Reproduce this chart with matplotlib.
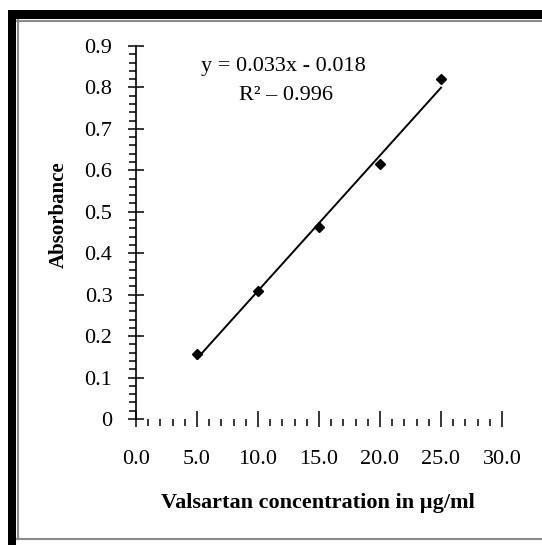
import numpy as np
import matplotlib
matplotlib.use('Agg')
from matplotlib import pyplot as plt
from matplotlib.patches import Rectangle
from matplotlib.lines import Line2D
from matplotlib.ticker import MultipleLocator, FormatStrFormatter

# data
conc = [5, 10, 15, 20, 25]
absorb = [0.156, 0.309, 0.463, 0.615, 0.820]
x_ticks = [0, 5, 10, 15, 20, 25, 30]
y_ticks = [0, 0.1, 0.2, 0.3, 0.4, 0.5, 0.6, 0.7, 0.8, 0.9]
eq_text = 'y = 0.033x - 0.018'
r2_text = 'R\u00b2 \u2013 0.996'

plt.rcParams['font.family'] = ['Liberation Serif', 'DejaVu Serif']

W, H = 542, 545
fig = plt.figure(figsize=(W / 100, H / 100), dpi=100)

def fx(px):
    return px / W

def fy(py):
    return 1 - py / H

# frame around the chart (black bar + thin grey line)
fig.add_artist(Rectangle((fx(8), fy(19)), fx(534), 9 / H, transform=fig.transFigure, color='black', lw=0))
fig.add_artist(Rectangle((fx(8), 0), 8 / W, fy(10), transform=fig.transFigure, color='black', lw=0))
fig.add_artist(Line2D([fx(17), 1], [fy(20.5), fy(20.5)], transform=fig.transFigure, color='#8a8a8a', lw=1.5))
fig.add_artist(Line2D([fx(18), fx(18)], [fy(20), fy(539)], transform=fig.transFigure, color='#8a8a8a', lw=1.5))
fig.add_artist(Line2D([fx(17), 1], [fy(538.5), fy(538.5)], transform=fig.transFigure, color='#8a8a8a', lw=1.5))

ax = fig.add_axes([fx(136), fy(419), (502 - 136) / W, (419 - 46) / H])

# linear trendline
slope, icpt = np.polyfit(conc, absorb, 1)
xf = np.array([min(conc), max(conc)])
ax.plot(xf, slope * xf + icpt, color='black', lw=1.4, zorder=2)
ax.plot(conc, absorb, linestyle='none', marker='D', color='black', ms=5.5, zorder=3)

ax.set_xlim(0, 30)
ax.set_ylim(0, 0.9)
ax.set_xticks(x_ticks)
ax.set_yticks(y_ticks)
ax.xaxis.set_major_formatter(FormatStrFormatter('%.1f'))
ax.set_yticklabels(['0'] + ['%.1f' % v for v in y_ticks[1:]])
ax.xaxis.set_minor_locator(MultipleLocator(1))
ax.yaxis.set_minor_locator(MultipleLocator(0.02))

for s in ['top', 'right', 'bottom']:
    ax.spines[s].set_visible(False)
ax.spines['left'].set_linewidth(1.2)

ax.tick_params(axis='both', which='major', direction='inout', length=12, width=1.1, labelsize=16, colors='black')
ax.tick_params(axis='both', which='minor', direction='out', length=5, width=1.1)
ax.tick_params(axis='x', which='major', pad=16)
ax.tick_params(axis='y', which='major', pad=11)

ax.text(12.1, 0.850, eq_text, ha='center', va='center', fontsize=16)
ax.text(12.3, 0.780, r2_text, ha='center', va='center', fontsize=16)

fig.text(fx(59), fy(215), 'Absorbance', rotation=90, ha='center', va='center', fontsize=15, fontweight='bold')
fig.text(fx(318), fy(503), 'Valsartan concentration in \u00b5g/ml', ha='center', va='center', fontsize=16, fontweight='bold')

fig.savefig('out.png', dpi=100)
